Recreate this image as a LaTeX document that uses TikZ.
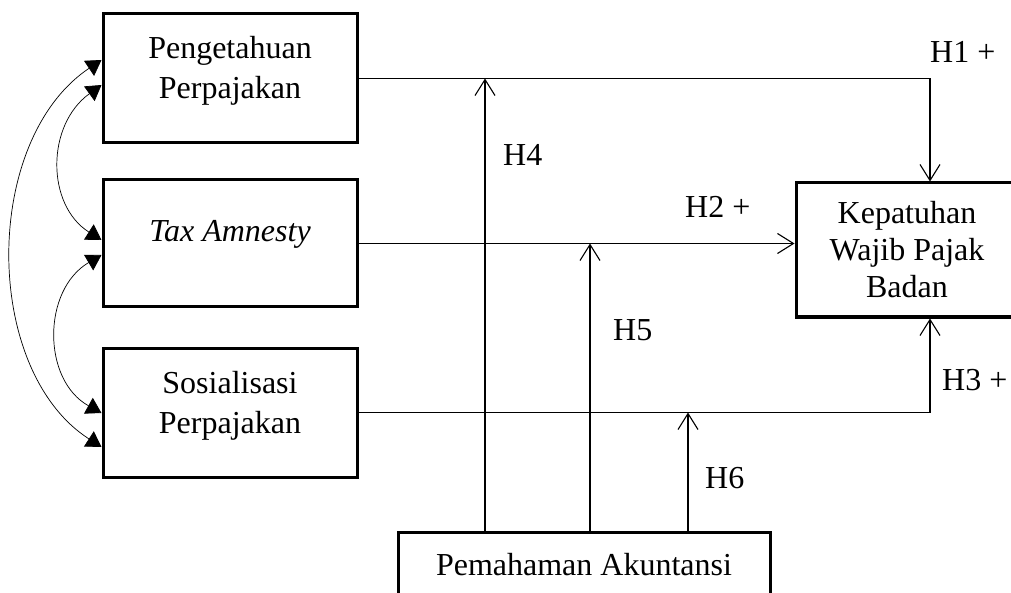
\documentclass[tikz,border=0pt]{standalone}
\usepackage{fontspec}
\setmainfont{Liberation Serif}
\usetikzlibrary{arrows.meta}
\begin{document}
\begin{tikzpicture}[x=1pt,y=-1pt,
  box/.style={draw, line width=3pt, inner sep=0pt, minimum width=254pt, minimum height=129pt},
  conn/.style={line width=1.1pt, -{Straight Barb[length=16pt,width=20pt]}},
  plain/.style={line width=1.1pt},
  corr/.style={line width=0.7pt, {Triangle[length=15pt,width=18pt]}-{Triangle[length=15pt,width=18pt]}},
  txt/.style={font=\fontsize{32}{40}\selectfont, align=center, inner sep=0pt},
  lbl/.style={font=\fontsize{32}{37}\selectfont, inner sep=0pt, anchor=base west}]
\useasboundingbox (0,0) rectangle (1011,593);
\clip (0,0) rectangle (1011,593);
% boxes
\node[box] (b1) at (230,78.5) {};
\node[box, minimum height=127pt] (b2) at (230,243.5) {};
\node[box] (b3) at (230,412.5) {};
\node[box, minimum width=222pt, minimum height=134pt] (kp) at (907,250) {};
\node[box, minimum width=372pt, minimum height=120pt] (pa) at (584,592) {};
% texts
\node[txt] (t1) at (230,70.5) {Pengetahuan\\Perpajakan};
\node[txt, anchor=base] (t2) at (230,242) {\textit{Tax Amnesty}};
\node[txt] (t3) at (230,405.5) {Sosialisasi\\Perpajakan};
\node[txt, font=\fontsize{32}{37}\selectfont] (tk) at (907,250) {Kepatuhan\\Wajib Pajak\\Badan};
\node[txt, anchor=base] (tpa) at (584,575) {Pemahaman Akuntansi};
% helper coordinates
\coordinate (xr) at (930,0);
\coordinate (x4) at (485,0);
\coordinate (x5) at (590,0);
\coordinate (x6) at (688,0);
\coordinate (k1) at (b1.east -| xr);
\coordinate (k3) at (b3.east -| xr);
\coordinate (j4) at (b1.east -| x4);
\coordinate (j5) at (b2.east -| x5);
\coordinate (j6) at (b3.east -| x6);
% main paths
\draw[plain] (b1.east) -- (k1);
\draw[conn] (k1) -- (k1 |- kp.north);
\draw[conn] (b2.east) -- (b2.east -| kp.west);
\draw[plain] (b3.east) -- (k3);
\draw[conn] (k3) -- (k3 |- kp.south);
% moderation
\draw[conn] (pa.north -| j4) -- (j4);
\draw[conn] (pa.north -| j5) -- (j5);
\draw[conn] (pa.north -| j6) -- (j6);
% labels
\node[lbl] (h1) at (930,63) {H1 +};
\node[lbl] (h2) at (685,218) {H2 +};
\node[lbl] (h3) at (942,390) {H3 +};
\node[lbl] (h4) at (503,166) {H4};
\node[lbl] (h5) at (613,340) {H5};
\node[lbl] (h6) at (705,488) {H6};
% correlations
\draw[corr] ([yshift=18.5pt]b1.west) .. controls (-18,140) and (-18,370) .. ([yshift=-34.5pt]b3.west);
\draw[corr] ([yshift=-6.5pt]b1.west) .. controls (46,125) and (46,205) .. ([yshift=3.5pt]b2.west);
\draw[corr] ([yshift=-11.5pt]b2.west) .. controls (42,290) and (42,380) .. ([yshift=-0.5pt]b3.west);
\end{tikzpicture}
\end{document}
